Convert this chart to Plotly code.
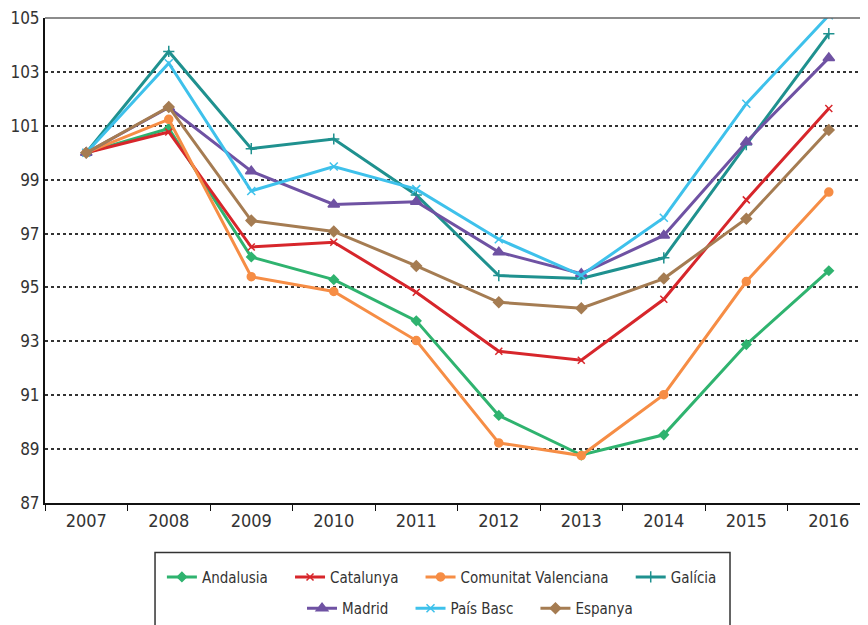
import plotly.graph_objects as go

# %% Data (index, 2007 = 100)

years = ["2007", "2008", "2009", "2010", "2011", "2012", "2013", "2014", "2015", "2016"]

andalusia = [100.0, 100.9, 96.13, 95.29, 93.76, 90.25, 88.78, 89.53, 92.88, 95.62]
catalunya = [100.0, 100.77, 96.5, 96.68, 94.82, 92.63, 92.3, 94.56, 98.25, 101.64]
valenciana = [100.0, 101.24, 95.4, 94.85, 93.03, 89.23, 88.76, 91.02, 95.22, 98.54]
galicia = [100.0, 103.76, 100.15, 100.51, 98.43, 95.44, 95.33, 96.1, 100.3, 104.42]
madrid = [100.0, 101.68, 99.31, 98.08, 98.18, 96.31, 95.51, 96.93, 100.4, 103.52]
pais_basc = [100.0, 103.32, 98.58, 99.49, 98.65, 96.79, 95.45, 97.59, 101.82, 105.1]
espanya = [100.0, 101.7, 97.48, 97.08, 95.8, 94.45, 94.23, 95.33, 97.55, 100.84]

# name, values, colour, marker, marker size, legend row
series = [
    ("Andalusia", andalusia, "#2fb36f", "diamond", 7, "legend"),
    ("Catalunya", catalunya, "#d7262b", "x-thin", 7, "legend"),
    ("Comunitat Valenciana", valenciana, "#f68d45", "circle", 8, "legend"),
    ("Galícia", galicia, "#1f918f", "cross-thin", 8, "legend"),
    ("Madrid", madrid, "#6f52a3", "triangle-up", 10, "legend2"),
    ("País Basc", pais_basc, "#3ec1eb", "x-thin", 8, "legend2"),
    ("Espanya", espanya, "#a57c52", "diamond", 8, "legend2"),
]
last_in_row = {"Galícia", "Espanya"}

font_family = "Liberation Sans Narrow, DejaVu Sans Condensed, Roboto, sans-serif"
text_color = "#333333"
pad = "\u00a0" * 4  # extra gap between legend entries

# %% Figure

fig = go.Figure()
for name, vals, color, symbol, msize, leg in series:
    fig.add_trace(go.Scatter(
        x=years, y=vals, mode="lines+markers", legend=leg,
        name=name if name in last_in_row else name + pad,
        line=dict(color=color, width=3),
        marker=dict(symbol=symbol, size=msize, color=color,
                    line=dict(color=color, width=1.5)),
    ))

legend_style = dict(orientation="h", xanchor="center", yanchor="middle",
                    bgcolor="rgba(0,0,0,0)", borderwidth=0,
                    font=dict(size=15, color=text_color), traceorder="normal")

# page has an 8px body margin: keep the figure inside the window width
fig.update_layout(
    width=852, height=617,
    margin=dict(l=37, r=0, t=10, b=117),
    plot_bgcolor="white", paper_bgcolor="white",
    font=dict(family=font_family, color=text_color, size=18),
    showlegend=True,
    legend=dict(x=0.487, y=-0.153, **legend_style),
    legend2=dict(x=0.5215, y=-0.218, **legend_style),
    shapes=[
        # top frame line
        dict(type="line", xref="paper", yref="paper", x0=0, x1=1, y0=1, y1=1,
             line=dict(color="#666666", width=1.5)),
        # legend box
        dict(type="rect", xref="paper", yref="paper", x0=0.135, x1=0.8405,
             y0=-0.102, y1=-0.3, line=dict(color=text_color, width=1.5)),
    ],
)

fig.update_xaxes(
    type="category", range=[-0.5, 9.378],
    showline=True, linecolor="#111111", linewidth=2,
    ticks="outside", tickson="boundaries", ticklen=6, tickcolor="#111111",
    showgrid=False, tickfont=dict(size=18), automargin=False,
)
fig.update_yaxes(
    range=[87, 105], tick0=87, dtick=2, showline=True, linecolor="#111111", linewidth=2,
    showgrid=True, gridcolor="#333333", griddash="dot", gridwidth=1.5,
    zeroline=False, ticks="", tickfont=dict(size=17), automargin=False,
    ticklabeloverflow="allow",
)

fig.write_html("out.html")
